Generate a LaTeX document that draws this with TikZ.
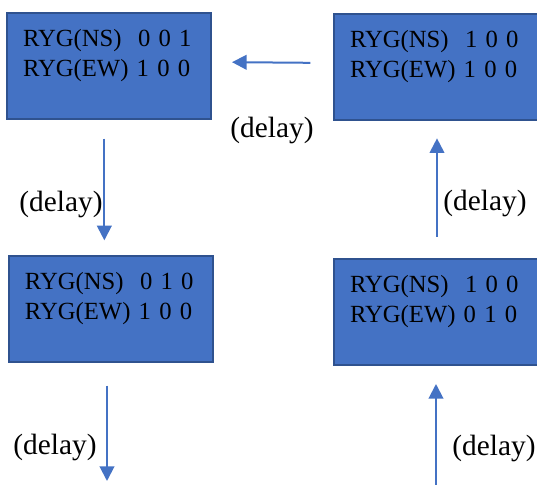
\documentclass[tikz,border=0pt]{standalone}
\usepackage{fontspec}
\setmainfont{Liberation Serif}
\usetikzlibrary{arrows.meta,positioning}
\definecolor{stateblue}{HTML}{4472C4}
\definecolor{stateedge}{HTML}{2F528F}

\begin{document}
\begin{tikzpicture}[x=0.75pt,y=-0.75pt]

    \tikzstyle{state}=[rectangle,draw=stateedge,fill=stateblue,line width=1.5pt,anchor=north west,align=left,text width=129pt,inner xsep=12pt,inner ysep=13pt,text height=12.5pt,text depth=41pt,font=\fontsize{18.5}{22.5}\selectfont]
    \tikzstyle{flow}=[draw=stateblue,line width=1.5pt,-{Triangle[width=11pt,length=11pt]}]
    \tikzstyle{delay}=[font=\fontsize{22}{26}\selectfont,inner sep=0pt]

    \useasboundingbox (0,0) rectangle (537,485);

\node (ns_green) [state] at (6,12) {RYG(NS)\ \ 0 0 1\\RYG(EW) 1 0 0};
\node (all_red) [state,minimum width=153pt] at (333,13) {RYG(NS)\ \ 1 0 0\\RYG(EW) 1 0 0};
\node (ns_yellow) [state] at (8,255) {RYG(NS)\ \ 0 1 0\\RYG(EW) 1 0 0};
\node (ew_yellow) [state,minimum width=153pt] at (333,258) {RYG(NS)\ \ 1 0 0\\RYG(EW) 0 1 0};

\coordinate (ns_exit) at (107,481);
\coordinate (ew_entry) at (436,486);

% red -> green
\draw[flow,shorten <=17pt,shorten >=15pt] ([yshift=3pt]all_red.west) -- ([yshift=3pt]ns_green.east);
\node (delay_1) [delay] at (272,130) {(delay)};

% green -> yellow
\draw[flow,shorten <=14pt,shorten >=11pt] ([xshift=-3.5pt]ns_green.south) -- ([xshift=-3.5pt]ns_green.south |- ns_yellow.north);
\node (delay_2) [delay] at (61,204) {(delay)};

\draw[flow,shorten <=17pt] (ns_yellow.south -| ns_exit) -- (ns_exit);
\node (delay_3) [delay] at (55,447) {(delay)};

% ew side
\draw[flow,shorten >=13.5pt] (ew_entry) -- (ew_entry |- ew_yellow.south);
\node (delay_4) [delay] at (494,448) {(delay)};

\draw[flow,shorten <=16pt,shorten >=13pt] ([xshift=0.75pt]ew_yellow.north) -- ([xshift=0.75pt]all_red.south);
\node (delay_5) [delay] at (485,203) {(delay)};

\end{tikzpicture}
\end{document}
